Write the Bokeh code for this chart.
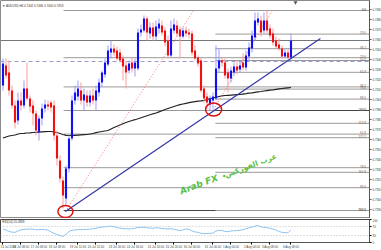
from bokeh.plotting import figure
from bokeh.layouts import column
from bokeh.models import Range1d, FixedTicker, Label
from bokeh.core.properties import value
from bokeh.embed import file_html
from bokeh.resources import INLINE

# ---------------- data (AUDUSD H4) ----------------
opens = [0.7414, 0.7434, 0.7427, 0.7409, 0.7394, 0.7379, 0.7399, 0.7394, 0.7411, 0.7401,
         0.7394, 0.7386, 0.7367, 0.7381, 0.7391, 0.7395, 0.7397, 0.7394, 0.7364, 0.7339,
         0.7319, 0.7301, 0.7331, 0.7361, 0.7399, 0.7403, 0.7409, 0.7399, 0.7404, 0.7397,
         0.7404, 0.7399, 0.7407, 0.7417, 0.7425, 0.7435, 0.7447, 0.7451, 0.7449, 0.7447,
         0.7441, 0.7434, 0.7429, 0.7437, 0.7431, 0.7431, 0.7467, 0.7469, 0.7481, 0.7466,
         0.7472, 0.7463, 0.7471, 0.7474, 0.7469, 0.7459, 0.7444, 0.7469, 0.7474, 0.7470,
         0.7463, 0.7469, 0.7467, 0.7466, 0.7449, 0.7442, 0.7439, 0.7411, 0.7403, 0.7395,
         0.7399, 0.7401, 0.7431, 0.7439, 0.7437, 0.7427, 0.7421, 0.7427, 0.7433, 0.7430,
         0.7437, 0.7432, 0.7443, 0.7451, 0.7462, 0.7477, 0.7479, 0.7469, 0.7479, 0.7471,
         0.7466, 0.7459, 0.7455, 0.7451, 0.7443, 0.7447, 0.7442]
highs = [0.7441, 0.7441, 0.7439, 0.7414, 0.7399, 0.7407, 0.7407, 0.7419, 0.7437, 0.7404,
         0.7399, 0.7389, 0.7384, 0.7396, 0.7400, 0.7399, 0.7399, 0.7399, 0.7369, 0.7344,
         0.7323, 0.7334, 0.7364, 0.7404, 0.7414, 0.7419, 0.7417, 0.7411, 0.7409, 0.7409,
         0.7411, 0.7414, 0.7421, 0.7429, 0.7441, 0.7454, 0.7459, 0.7455, 0.7453, 0.7451,
         0.7444, 0.7439, 0.7439, 0.7442, 0.7441, 0.7471, 0.7475, 0.7484, 0.7483, 0.7477,
         0.7477, 0.7479, 0.7481, 0.7479, 0.7472, 0.7464, 0.7479, 0.7481, 0.7479, 0.7473,
         0.7472, 0.7473, 0.7471, 0.7469, 0.7454, 0.7444, 0.7441, 0.7414, 0.7407, 0.7404,
         0.7407, 0.7454, 0.7451, 0.7442, 0.7441, 0.7431, 0.7433, 0.7437, 0.7439, 0.7439,
         0.7446, 0.7449, 0.7457, 0.7469, 0.7487, 0.7487, 0.7484, 0.7487, 0.7489, 0.7475,
         0.7471, 0.7463, 0.7461, 0.7454, 0.7451, 0.7451, 0.7466]
lows = [0.7409, 0.7421, 0.7404, 0.7391, 0.7371, 0.7375, 0.7389, 0.7391, 0.7399, 0.7387,
        0.7374, 0.7364, 0.7359, 0.7374, 0.7387, 0.7389, 0.7387, 0.7359, 0.7334, 0.7317,
        0.7291, 0.7295, 0.7327, 0.7359, 0.7395, 0.7399, 0.7395, 0.7389, 0.7393, 0.7393,
        0.7395, 0.7389, 0.7403, 0.7413, 0.7422, 0.7433, 0.7441, 0.7443, 0.7439, 0.7437,
        0.7419, 0.7411, 0.7426, 0.7427, 0.7423, 0.7429, 0.7463, 0.7467, 0.7459, 0.7461,
        0.7459, 0.7459, 0.7466, 0.7464, 0.7453, 0.7441, 0.7442, 0.7466, 0.7463, 0.7441,
        0.7461, 0.7463, 0.7461, 0.7444, 0.7439, 0.7433, 0.7407, 0.7397, 0.7391, 0.7389,
        0.7391, 0.7399, 0.7427, 0.7433, 0.7421, 0.7407, 0.7417, 0.7424, 0.7425, 0.7427,
        0.7429, 0.7429, 0.7439, 0.7447, 0.7459, 0.7474, 0.7463, 0.7466, 0.7466, 0.7461,
        0.7454, 0.7451, 0.7449, 0.7441, 0.7441, 0.7440, 0.7440]
closes = [0.7436, 0.7424, 0.7409, 0.7394, 0.7377, 0.7399, 0.7394, 0.7411, 0.7401, 0.7393,
          0.7386, 0.7369, 0.7381, 0.7391, 0.7395, 0.7393, 0.7392, 0.7364, 0.7341, 0.7321,
          0.7304, 0.7331, 0.7361, 0.7399, 0.7407, 0.7411, 0.7399, 0.7405, 0.7397, 0.7404,
          0.7399, 0.7409, 0.7417, 0.7427, 0.7437, 0.7449, 0.7451, 0.7447, 0.7441, 0.7439,
          0.7433, 0.7427, 0.7436, 0.7431, 0.7437, 0.7467, 0.7470, 0.7481, 0.7467, 0.7472,
          0.7463, 0.7473, 0.7476, 0.7467, 0.7457, 0.7444, 0.7471, 0.7475, 0.7466, 0.7463,
          0.7469, 0.7466, 0.7465, 0.7447, 0.7441, 0.7436, 0.7409, 0.7401, 0.7397, 0.7401,
          0.7403, 0.7431, 0.7439, 0.7437, 0.7424, 0.7421, 0.7429, 0.7433, 0.7429, 0.7434,
          0.7432, 0.7444, 0.7452, 0.7464, 0.7479, 0.7481, 0.7467, 0.7479, 0.7469, 0.7464,
          0.7457, 0.7453, 0.7451, 0.7443, 0.7447, 0.7442, 0.7459]
ma200 = [0.73615, 0.73625, 0.73635, 0.7364, 0.73645, 0.73655, 0.7366, 0.73662, 0.73665, 0.73667,
         0.7367, 0.73672, 0.73674, 0.73676, 0.73678, 0.7368, 0.7368, 0.73675, 0.7367, 0.7366,
         0.7365, 0.73642, 0.7364, 0.7364, 0.73642, 0.73644, 0.73646, 0.73648, 0.7365, 0.73655,
         0.7366, 0.73668, 0.73675, 0.7368, 0.73685, 0.7369, 0.73705, 0.7372, 0.73732, 0.73745,
         0.73758, 0.7377, 0.7378, 0.7379, 0.73798, 0.73807, 0.73817, 0.73827, 0.73837, 0.73847,
         0.73857, 0.73865, 0.73876, 0.73888, 0.739, 0.7391, 0.7392, 0.7393, 0.7394, 0.73948,
         0.73955, 0.73962, 0.73968, 0.73973, 0.73978, 0.73983, 0.73987, 0.73992, 0.74, 0.74008,
         0.74015, 0.74022, 0.7403, 0.74037, 0.7404, 0.74042, 0.74044, 0.74046, 0.74048, 0.7405,
         0.74054, 0.74058, 0.74063, 0.74067, 0.74072, 0.74076, 0.7408, 0.74085, 0.74089, 0.74093,
         0.74097, 0.74102, 0.74106, 0.7411, 0.74114, 0.74117, 0.7412]
rsi14 = [58, 54, 48, 45, 44, 50, 55, 57, 58, 59,
         58, 55, 56, 57, 56, 54, 46, 40, 35, 30,
         27, 36, 48, 53, 55, 56, 56, 57, 57, 58,
         60, 62, 65, 67, 68, 70, 71, 69, 65, 62,
         61, 60, 59, 60, 62, 66, 65, 67, 64, 63,
         62, 64, 63, 61, 60, 58, 60, 58, 54, 52,
         55, 59, 57, 50, 46, 44, 40, 39, 39, 40,
         41, 50, 53, 52, 48, 47, 50, 51, 52, 53,
         56, 60, 64, 67, 71, 74, 68, 66, 64, 62,
         58, 54, 48, 44, 43, 42, 55.3]

price_ticks = [0.7280, 0.7290, 0.7300, 0.7310, 0.7320, 0.7330, 0.7340, 0.7350, 0.7360, 0.7370, 0.7380,
               0.7390, 0.7400, 0.7410, 0.7420, 0.7430, 0.7440, 0.7450, 0.7460, 0.7470, 0.7480, 0.7490]
date_ticks = [0, 6, 12, 18, 25, 31, 38, 44, 51, 57, 63, 70, 76, 83, 89, 96]
date_labels = ["13 Jul 2018", "16 Jul 08:00", "17 Jul 08:00", "18 Jul 08:00", "19 Jul 12:00",
               "20 Jul 12:00", "23 Jul 16:00", "24 Jul 16:00", "25 Jul 20:00", "26 Jul 20:00",
               "30 Jul 00:00", "31 Jul 00:00", "1 Aug 04:00", "2 Aug 04:00", "3 Aug 08:00",
               "6 Aug 08:00"]
rsi_ticks = [0, 30, 70, 100]

fib_a_low, fib_a_high, fib_a_start = 0.7289, 0.7489, 20.2
fib_a_ratios = [0.0, 23.6, 38.2, 50.0, 61.8, 78.6, 88.6, 100.0]
fib_b_low, fib_b_high, fib_b_start = 0.7389, 0.7489, 70.8
fib_b_ratios = [0.0, 23.6, 38.2, 50.0, 61.8, 78.6, 88.6, 100.0, 112.8, 127.2, 161.8, 200.0]

trend_x = [20.8, 105.8]
trend_y = [0.7288, 0.7461]
fib_a_diag_x = [20.8, 63.5]
fib_a_diag_y = [0.7288, 0.7489]
fib_b_diag_x = [70.2, 89.8]
fib_b_diag_y = [0.7390, 0.7489]
circle_x = [20.8, 70.2]
circle_y = [0.7288, 0.7390]
bid_price = 0.7459
alert_price = 0.7438

# ---------------- figure ----------------
n = len(closes)
bars = list(range(n))
is_up = [c >= o for o, c in zip(opens, closes)]


def pick(seq, flag):
    return [v for v, u in zip(seq, is_up) if u == flag]


FW = 369
xr = Range1d(-0.833, -0.833 + FW / 3.0)

p = figure(frame_width=FW, frame_height=218, x_range=xr, y_range=Range1d(0.7281, 0.7499),
           y_axis_location="right", x_axis_location=None, output_backend="svg",
           toolbar_location=None, min_border_left=0, min_border_right=0, min_border_top=0,
           min_border_bottom=0, outline_line_color="#8a8a8a")
p.grid.visible = False
ya = p.yaxis[0]
ya.ticker = FixedTicker(ticks=price_ticks)
ya.major_label_overrides = {t: "%.4f" % t for t in price_ticks}
ya.major_label_text_font_size = "3px"
ya.major_label_text_color = "#333333"
ya.major_label_standoff = 1
ya.major_tick_out = 2
ya.major_tick_in = 0
ya.minor_tick_out = 0
ya.minor_tick_in = 0
ya.axis_line_color = "#555555"
ya.major_tick_line_color = "#555555"

x_end = xr.end


def fib(lo, hi, ratios):
    return [hi - r / 100.0 * (hi - lo) for r in ratios]


fa = fib(fib_a_low, fib_a_high, fib_a_ratios)
fb = fib(fib_b_low, fib_b_high, fib_b_ratios)
p.segment(x0=[fib_a_start] * len(fa), x1=[x_end] * len(fa), y0=fa, y1=fa,
          line_color=["#444444" if r == 100.0 else "#999999" for r in fib_a_ratios], line_width=1)
p.segment(x0=[fib_b_start] * len(fb), x1=[x_end] * len(fb), y0=fb, y1=fb,
          line_color=["#444444" if r == 100.0 else "#999999" for r in fib_b_ratios], line_width=1)
p.text(x=[x_end - 1.2] * len(fa), y=fa, text=["%.1f" % r for r in fib_a_ratios],
       text_font_size="3px", text_color="#666666", text_align="right", text_baseline="bottom")
p.text(x=[x_end - 1.2] * len(fb), y=fb, text=["%.1f" % r for r in fib_b_ratios],
       text_font_size="3px", text_color="#666666", text_align="right", text_baseline="bottom")

# bid line and dashed line
p.segment(x0=[xr.start], x1=[x_end], y0=[bid_price], y1=[bid_price], line_color="#777777", line_width=1)
p.segment(x0=[xr.start], x1=[x_end], y0=[alert_price], y1=[alert_price], line_color="#9b9bd0",
          line_width=1, line_dash="4 3")

# moving average
p.line(bars, ma200, line_color="#222222", line_width=1.2)

# fib anchor diagonals
p.line(fib_a_diag_x, fib_a_diag_y, line_color="#ff7070", line_width=1, line_dash="1 2")
p.line(fib_b_diag_x, fib_b_diag_y, line_color="#ff7070", line_width=1, line_dash="1 2")

# candles
ux, dx = pick(bars, True), pick(bars, False)
p.segment(x0=ux, x1=ux, y0=pick(lows, True), y1=pick(highs, True), line_color="#9a9aff", line_width=1)
p.segment(x0=dx, x1=dx, y0=pick(lows, False), y1=pick(highs, False), line_color="#ff9a9a", line_width=1)
p.vbar(x=ux, width=0.7, bottom=pick(opens, True), top=pick(closes, True),
       fill_color="#1010f0", line_color=None)
p.vbar(x=dx, width=0.7, bottom=pick(closes, False), top=pick(opens, False),
       fill_color="#f01010", line_color=None)

# trend line and circles
p.line(trend_x, trend_y, line_color="#3535a8", line_width=1.2)
p.ellipse(x=circle_x, y=circle_y, width=[15, 16], height=[12, 13], width_units="screen",
          height_units="screen", fill_color=None, line_color="#e01010", line_width=1.5)

# chart shift marker
p.scatter(x=[97.5], y=[0.7497], marker="inverted_triangle", size=4, fill_color="#555555",
          line_color=None)

# title
p.text(x=[xr.start + 0.6], y=[0.7494],
       text=["\u25bc AUDUSD,H4  %.4f %.4f %.4f %.4f" % (opens[-1], highs[-1], lows[-1], closes[-1])],
       text_font_size="3px", text_color="#333333", text_baseline="middle")

# watermark
p.text(x=[65.3], y=[0.7315], text=["Arab FX"], angle=0.36, text_font=value("DejaVu Sans"),
       text_font_style="bold italic", text_font_size="9px", text_color="#5cbf45",
       text_align="center", text_baseline="middle")
p.text(x=[73.8], y=[0.7323], text=["\u2022"], angle=0.36, text_font=value("DejaVu Sans"),
       text_font_style="bold", text_font_size="7px", text_color="#5cbf45",
       text_align="center", text_baseline="middle")
p.text(x=[82.6], y=[0.7334], text=["\u0639\u0631\u0628 \u0627\u0644\u0641\u0648\u0631\u0643\u0633"],
       angle=0.36, text_font=value("DejaVu Sans"), text_font_style="bold",
       text_font_size="7.5px", text_color="#5cbf45", text_align="center", text_baseline="middle")

# price highlight boxes on the axis
p.add_layout(Label(x=x_end, y=bid_price, x_offset=1, text="%.4f" % bid_price, text_font_size="3px",
                   text_color="white", background_fill_color="#111111", text_baseline="middle"))
p.add_layout(Label(x=x_end, y=alert_price, x_offset=1, text="%.4f" % alert_price, text_font_size="3px",
                   text_color="white", background_fill_color="#2a2ad0", text_baseline="middle"))

# ---------------- RSI panel ----------------
r = figure(frame_width=FW, frame_height=23, x_range=xr, y_range=Range1d(0, 100),
           y_axis_location="right", output_backend="svg", toolbar_location=None,
           min_border_left=0, min_border_right=0, min_border_top=1, min_border_bottom=0,
           outline_line_color="#444444")
r.grid.visible = False
r.segment(x0=[xr.start] * 2, x1=[x_end] * 2, y0=[70, 30], y1=[70, 30], line_color="#bbbbbb",
          line_width=1, line_dash="1 2")
r.line(bars, rsi14, line_color="#8fc6f2", line_width=1)
r.text(x=[xr.start + 0.6], y=[97], text=["RSI(14) %.4f" % 55.2889], text_font_size="3px",
       text_color="#333333", text_baseline="top")
ry = r.yaxis[0]
ry.ticker = FixedTicker(ticks=rsi_ticks)
ry.major_label_text_font_size = "3px"
ry.major_label_standoff = 1
ry.major_tick_out = 2
ry.major_tick_in = 0
ry.minor_tick_out = 0
ry.minor_tick_in = 0
ry.axis_line_color = "#555555"
rx = r.xaxis[0]
rx.ticker = FixedTicker(ticks=date_ticks)
rx.major_label_overrides = {t: s for t, s in zip(date_ticks, date_labels)}
rx.major_label_text_font_size = "3px"
rx.major_label_text_align = "left"
rx.major_label_standoff = 1
rx.major_tick_out = 2
rx.major_tick_in = 0
rx.minor_tick_out = 0
rx.minor_tick_in = 0
rx.axis_line_color = "#555555"

layout = column(p, r, spacing=0)
open("out.html", "w").write(file_html(layout, INLINE))
